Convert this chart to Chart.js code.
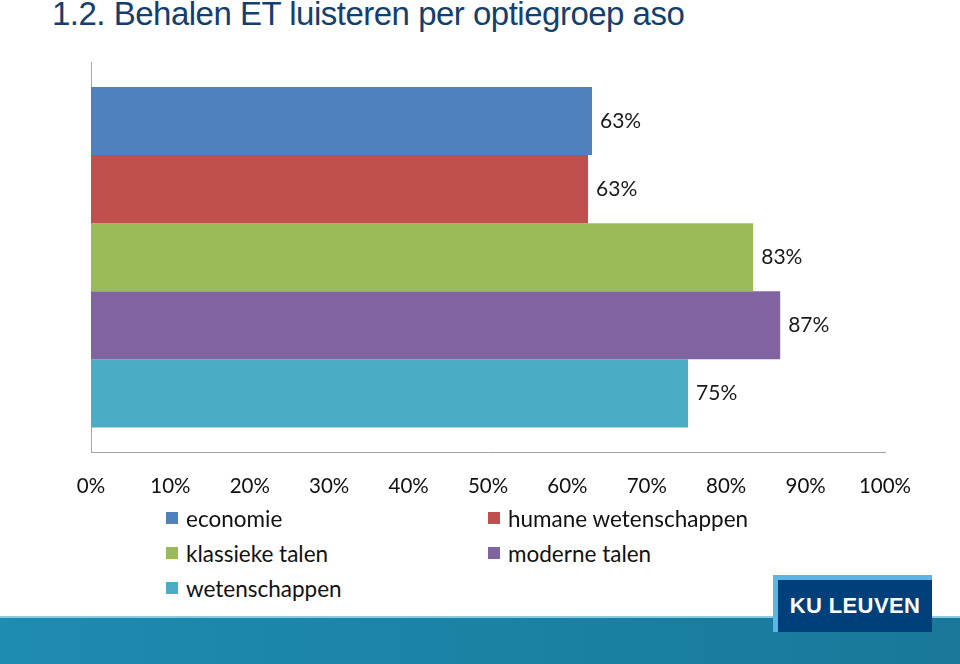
<!DOCTYPE html>
<html>
<head>
<meta charset="utf-8">
<script src="https://cdn.jsdelivr.net/npm/chart.js@4/dist/chart.umd.min.js"></script>
<style>
  html, body { margin: 0; padding: 0; width: 960px; height: 664px; overflow: hidden; background: #fff; position: relative; }
  #title { position: absolute; left: 52px; top: -5px; font-family: "Liberation Sans", Arial, sans-serif; font-size: 33px; color: #133F70; white-space: nowrap; letter-spacing: -0.5px; }
  #wrap { position: absolute; left: 0; top: 0; width: 960px; height: 532px; }
  #legend { position: absolute; left: 0; top: 0; font-family: Lato, "Open Sans", sans-serif; font-size: 22.5px; color: #111; }
  .li { position: absolute; white-space: nowrap; display: flex; align-items: center; }
  .sw { width: 12px; height: 12px; margin-right: 8px; }
  #band { position: absolute; left: 0; top: 616px; width: 960px; height: 48px; background: linear-gradient(to right, #1E8BB0, #1B82A6 50%, #19789A); border-top: 2px solid #8ACBE0; box-sizing: border-box; }
  #logoBack { position: absolute; left: 773px; top: 575px; width: 159px; height: 57px; background: #5BB6E6; }
  #logo { position: absolute; left: 778px; top: 580px; width: 154px; height: 52px; background: #00407A; color: #fff; font-family: "Liberation Sans", Arial, sans-serif; font-weight: bold; font-size: 22px; display: flex; align-items: center; justify-content: center; letter-spacing: 0.4px; }
</style>
</head>
<body>
<div id="title">1.2. Behalen ET luisteren per optiegroep aso</div>
<div id="wrap"><canvas id="c" width="960" height="532"></canvas></div>
<div id="legend"></div>
<div id="band"></div>
<div id="logoBack"></div>
<div id="logo">KU LEUVEN</div>
<script>
const categories = [""];
const seriesNames = ["economie", "humane wetenschappen", "klassieke talen", "moderne talen", "wetenschappen"];
const seriesValues = [63.1, 62.6, 83.4, 86.8, 75.2];
const seriesColors = ["#4F81BD", "#C0504D", "#9BBB59", "#8064A2", "#4BACC6"];
const tickValues = [0, 10, 20, 30, 40, 50, 60, 70, 80, 90, 100];

const datasets = seriesNames.map((n, i) => ({
  label: n,
  data: [seriesValues[i]],
  backgroundColor: seriesColors[i],
  borderWidth: 0,
  categoryPercentage: 0.872,
  barPercentage: 1.0
}));

const valueLabels = {
  id: 'valueLabels',
  afterDatasetsDraw(chart) {
    const ctx = chart.ctx;
    ctx.save();
    ctx.font = '21px Lato, "Open Sans", sans-serif';
    ctx.fillStyle = '#1a1a1a';
    ctx.textBaseline = 'middle';
    ctx.textAlign = 'left';
    chart.data.datasets.forEach((ds, i) => {
      const meta = chart.getDatasetMeta(i);
      meta.data.forEach((el, j) => {
        ctx.fillText(Math.round(ds.data[j]) + '%', el.x + 8, el.y);
      });
    });
    ctx.restore();
  }
};

const chart = new Chart(document.getElementById('c'), {
  type: 'bar',
  data: { labels: categories, datasets },
  options: {
    indexAxis: 'y',
    responsive: false,
    animation: false,
    layout: { padding: { left: 91, right: 75, top: 62, bottom: 11 } },
    plugins: { legend: { display: false }, tooltip: { enabled: false }, title: { display: false } },
    scales: {
      x: {
        min: 0, max: 100,
        afterBuildTicks(scale) { scale.ticks = tickValues.map(v => ({ value: v })); },
        ticks: {
          callback: v => v + '%',
          font: { family: 'Lato, "Open Sans", sans-serif', size: 20.5 },
          color: '#111',
          padding: 22,
          maxRotation: 0,
          autoSkip: false
        },
        grid: { display: false, drawTicks: false },
        border: { display: true, color: '#A6A6A6', width: 1 }
      },
      y: {
        ticks: { display: false },
        grid: { display: false, drawTicks: false },
        border: { display: true, color: '#A6A6A6', width: 1 }
      }
    }
  },
  plugins: [valueLabels]
});

// HTML legend built from the chart's datasets
const legendPos = [[166, 518], [488, 518], [166, 553], [488, 553], [166, 588]];
const leg = document.getElementById('legend');
chart.data.datasets.forEach((ds, i) => {
  const d = document.createElement('div');
  d.className = 'li';
  d.style.left = legendPos[i][0] + 'px';
  d.style.top = (legendPos[i][1] - 13) + 'px';
  d.style.height = '26px';
  const sw = document.createElement('span');
  sw.className = 'sw';
  sw.style.background = ds.backgroundColor;
  const t = document.createElement('span');
  t.textContent = ds.label;
  d.appendChild(sw); d.appendChild(t);
  leg.appendChild(d);
});
</script>
</body>
</html>
